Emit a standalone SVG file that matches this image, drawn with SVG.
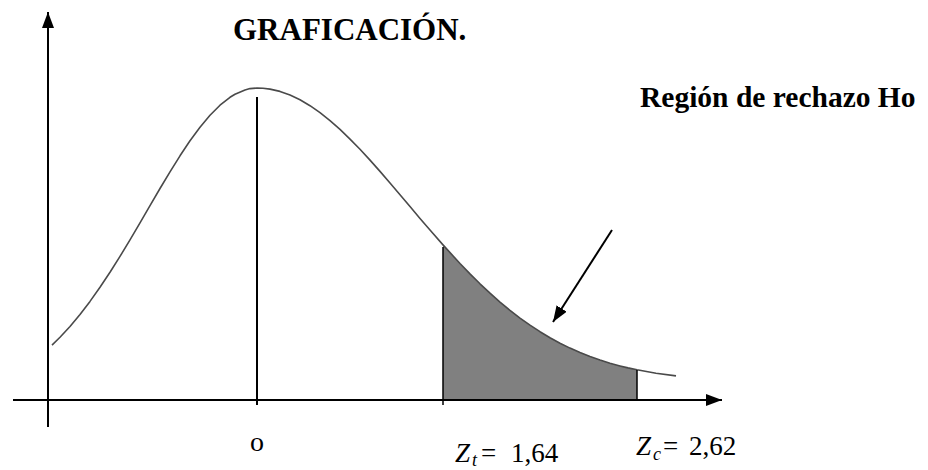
<svg xmlns="http://www.w3.org/2000/svg" width="928" height="470" viewBox="0 0 928 470">
<style>
.axis{stroke:#000;stroke-width:2;fill:none}
.thin{stroke:#000;stroke-width:1.5;fill:none}
.curve{stroke:#4a4a4a;stroke-width:1.6;fill:none;stroke-linejoin:round}
.shade{fill:#808080;stroke:none}
.serif{font-family:"Liberation Serif","Times New Roman",serif;fill:#000}
.bold{font-weight:bold}
.it{font-style:italic}
</style>
<defs>
<marker id="head" viewBox="0 0 16 12" refX="16" refY="6" markerWidth="16" markerHeight="12" markerUnits="userSpaceOnUse" orient="auto">
<path d="M0,0 L16,6 L0,12 z" fill="#000"/>
</marker>
</defs>
<rect width="928" height="470" fill="#fff"/>
<g id="shaded-region">
<polygon class="shade" points="443,400 443,244.9 460,263.5 470,273.9 480,283.8 490,293.2 500,302.1 510,310.3 520,318.1 530,325.2 540,331.7 550,337.8 560,343.2 570,348.1 580,352.5 590,356.5 600,360.0 610,363.2 620,365.9 628,367.9 637,369.8 637,400"/>
</g>
<g id="axes">
<line class="axis" x1="48" y1="427" x2="48" y2="12" marker-end="url(#head)"/>
<line class="axis" x1="13" y1="400" x2="722" y2="400" marker-end="url(#head)"/>
</g>
<g id="curve">
<polyline class="curve" points="52,345.1 60,337.3 70,326.5 80,314.5 90,301.4 100,287.3 110,272.3 120,256.4 130,239.8 140,222.8 150,205.6 160,188.5 170,171.8 180,155.8 190,140.8 200,127.2 210,115.2 220,105.2 230,97.3 235,94.2 245,89.9 250,88.6 257,88 263,88.2 270,89.1 280,91.4 290,95.0 300,99.8 310,105.7 320,112.6 330,120.6 340,129.4 350,139.1 360,149.3 370,160.1 380,171.4 390,183.0 400,194.7 410,206.6 420,218.4 430,230.1 443,244.9 460,263.5 470,273.9 480,283.8 490,293.2 500,302.1 510,310.3 520,318.1 530,325.2 540,331.7 550,337.8 560,343.2 570,348.1 580,352.5 590,356.5 600,360.0 610,363.2 620,365.9 628,367.9 637,369.8 656,373.2 676,375.9"/>
</g>
<g id="markers">
<line class="axis" x1="257" y1="97" x2="257" y2="405"/>
<line class="thin" x1="443" y1="247" x2="443" y2="405"/>
<line class="thin" x1="637" y1="370" x2="637" y2="400"/>
</g>
<g id="connectors">
<line class="axis" x1="612" y1="230" x2="553" y2="322" marker-end="url(#head)"/>
</g>
<g id="title">
<text class="serif bold" x="233" y="40" font-size="31">GRAFICACIÓN.</text>
</g>
<g id="region-label">
<text class="serif bold" x="640" y="107" font-size="29.5">Región de rechazo Ho</text>
</g>
<g id="label-zero">
<text class="serif" x="257" y="451" font-size="28" text-anchor="middle">o</text>
</g>
<g id="label-zt">
<text class="serif" y="462" font-size="27"><tspan class="it" x="455">Z</tspan><tspan class="it" x="472" y="466" font-size="18">t</tspan><tspan x="481" y="462">=</tspan><tspan x="511" y="462" font-size="27">1,64</tspan></text>
</g>
<g id="label-zc">
<text class="serif" y="455" font-size="27"><tspan class="it" x="636">Z</tspan><tspan class="it" x="653" y="460" font-size="18">c</tspan><tspan x="663" y="455">=</tspan><tspan x="689" y="455" font-size="27">2,62</tspan></text>
</g>
</svg>
